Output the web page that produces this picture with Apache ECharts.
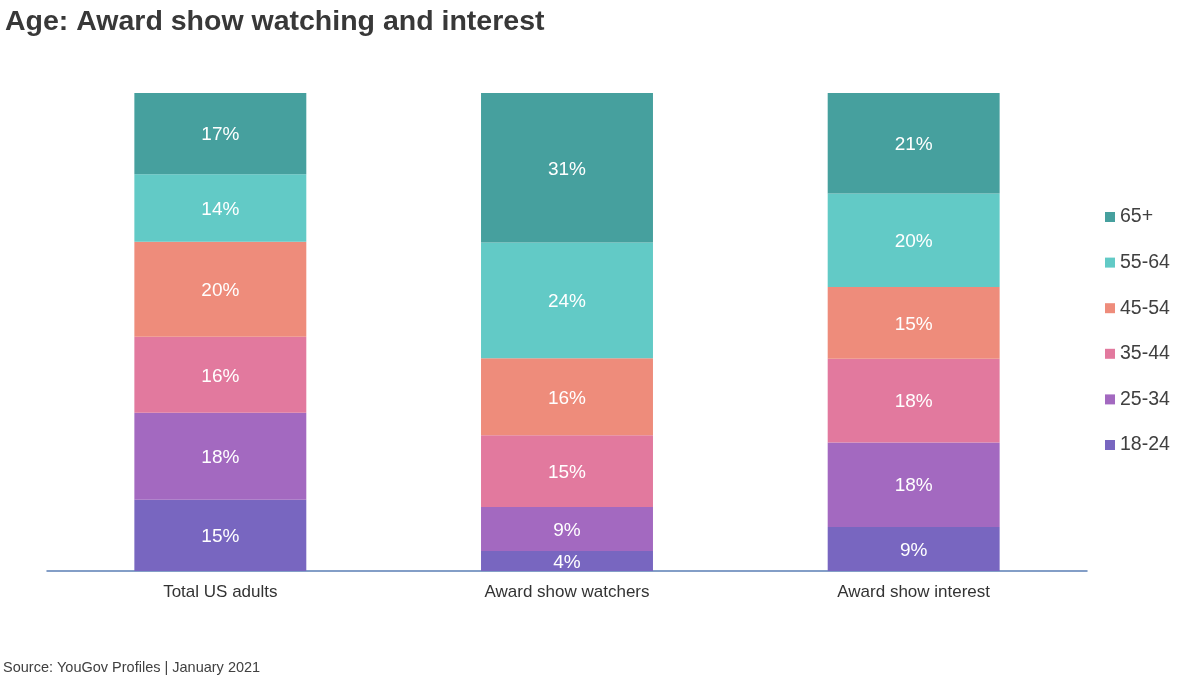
<!DOCTYPE html>
<html><head><meta charset="utf-8">
<script src="https://cdn.jsdelivr.net/npm/echarts@6/dist/echarts.min.js"></script>
<style>html,body{margin:0;padding:0;background:#fff}#c{width:1200px;height:681px}</style>
</head><body><div id="c"></div>
<script>
const categories = ['Total US adults', 'Award show watchers', 'Award show interest'];
const ageGroups = ['18-24', '25-34', '35-44', '45-54', '55-64', '65+'];
const v18_24 = [14.9, 4.2, 9.2];
const v25_34 = [18.2, 9.2, 17.7];
const v35_44 = [15.9, 15.0, 17.5];
const v45_54 = [19.9, 16.1, 15.0];
const v55_64 = [14.1, 24.2, 19.6];
const v65p   = [17.0, 31.3, 21.0];
const values = [v18_24, v25_34, v35_44, v45_54, v55_64, v65p];
const colors = ['#7866c0', '#a369c0', '#e2799e', '#ee8c7b', '#62cac6', '#46a09e'];

const FF = '"Liberation Sans", Arial, sans-serif';
const chart = echarts.init(document.getElementById('c'));
chart.setOption({
  animation: false,
  textStyle: { fontFamily: FF },
  title: [
    { text: 'Age: Award show watching and interest', left: 5, top: 8, padding: 0,
      textStyle: { fontSize: 28.5, fontWeight: 'bold', color: '#383838', fontFamily: FF } },
    { text: 'Source: YouGov Profiles | January 2021', left: 3, top: 660, padding: 0,
      textStyle: { fontSize: 14.5, fontWeight: 'normal', color: '#404040', fontFamily: FF } }
  ],
  legend: {
    orient: 'vertical', left: 1105, top: 207, padding: 0,
    data: ageGroups.slice().reverse(),
    icon: 'rect', itemWidth: 10, itemHeight: 10, itemGap: 25.6,
    textStyle: { fontSize: 19.5, color: '#404040', lineHeight: 20, fontFamily: FF }
  },
  grid: { left: 47, right: 113, top: 93, bottom: 110, containLabel: false },
  xAxis: {
    type: 'category', data: categories,
    axisLine: { lineStyle: { color: '#5b7fb5', width: 1.5 } },
    axisTick: { show: false },
    axisLabel: { fontSize: 17, color: '#333', margin: 13, fontFamily: FF }
  },
  yAxis: { type: 'value', min: 0, max: 100, show: false, splitLine: { show: false } },
  series: ageGroups.map((g, i) => ({
    name: g, type: 'bar', stack: 'total', barWidth: '49.6%',
    data: values[i],
    itemStyle: { color: colors[i] },
    label: { show: true, position: 'inside', color: '#fff', fontSize: 19, fontFamily: FF,
      offset: [0, 1.5],
      formatter: p => Math.round(p.value) + '%' }
  }))
});
</script></body></html>
